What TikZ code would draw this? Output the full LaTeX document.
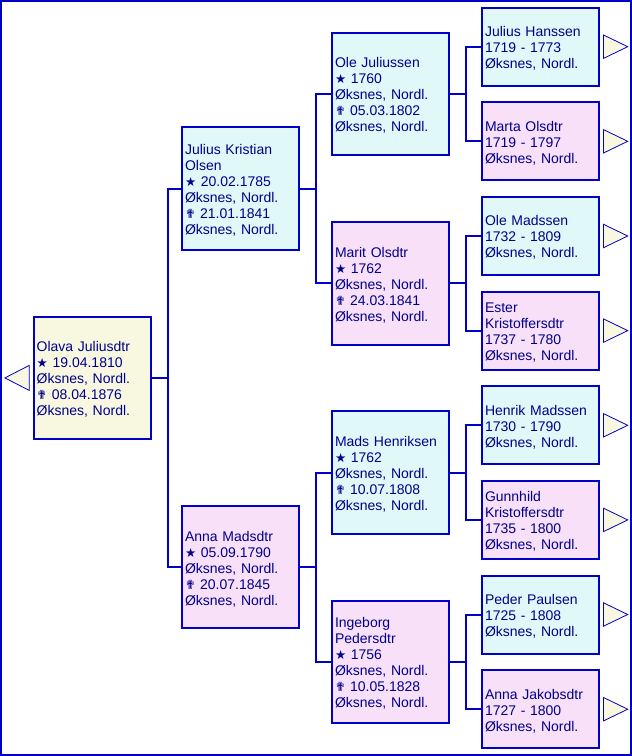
\documentclass[tikz,border=0pt]{standalone}
\usepackage{fontspec}
\setmainfont{Liberation Sans}
\newfontfamily\symfont{DejaVu Sans}
\usetikzlibrary{calc}
\definecolor{bord}{RGB}{0,0,200}
\definecolor{txt}{RGB}{0,0,140}
\definecolor{cream}{RGB}{248,248,224}
\definecolor{male}{RGB}{224,248,248}
\definecolor{female}{RGB}{248,224,248}
\newcommand{\born}{{\symfont\fontsize{12.5}{16}\selectfont ★}}
\newcommand{\died}{{\symfont\fontsize{12.5}{16}\selectfont ✟}}
\newcommand{\toplift}{\rule{0pt}{13.5pt}}
\begin{document}
\begin{tikzpicture}[x=1pt,y=-1pt,
  person/.style={draw=bord, line width=2pt, text=txt, align=left,
    text width=111pt, inner xsep=3pt, inner ysep=0pt, outer sep=0pt,
    minimum height=#1, anchor=west,
    font=\fontsize{14}{16}\selectfont},
  big/.style={person=122.5pt},
  small/.style={person=78pt},
  root/.style={big, fill=cream},
  male/.style={fill=male},
  female/.style={fill=female},
  conn/.style={draw=bord, line width=2pt},
  tri/.style={draw=bord, line width=0.8pt, fill=cream},
  frame/.style={draw=bord, line width=2pt}]
\useasboundingbox (0,0) rectangle (632,756);
\draw[frame] (1,1) rectangle (631,755);

% generation 0
\node[root] (p) at (33.7,377.9) {\toplift Olava Juliusdtr\\ \born{} 19.04.1810\\ Øksnes, Nordl.\\ \died{} 08.04.1876\\ Øksnes, Nordl.};

% generation 1
\node[big,male] (f) at (182,188.7) {\toplift Julius Kristian\\ Olsen\\ \born{} 20.02.1785\\ Øksnes, Nordl.\\ \died{} 21.01.1841\\ Øksnes, Nordl.};
\node[big,female] (m) at (182,567.2) {\toplift Anna Madsdtr\\ \born{} 05.09.1790\\ Øksnes, Nordl.\\ \died{} 20.07.1845\\ Øksnes, Nordl.};

% generation 2
\node[big,male] (ff) at (332,94.0) {\toplift Ole Juliussen\\ \born{} 1760\\ Øksnes, Nordl.\\ \died{} 05.03.1802\\ Øksnes, Nordl.};
\node[big,female] (fm) at (332,283.3) {\toplift Marit Olsdtr\\ \born{} 1762\\ Øksnes, Nordl.\\ \died{} 24.03.1841\\ Øksnes, Nordl.};
\node[big,male] (mf) at (332,472.6) {\toplift Mads Henriksen\\ \born{} 1762\\ Øksnes, Nordl.\\ \died{} 10.07.1808\\ Øksnes, Nordl.};
\node[big,female] (mm) at (332,661.9) {\toplift Ingeborg\\ Pedersdtr\\ \born{} 1756\\ Øksnes, Nordl.\\ \died{} 10.05.1828\\ Øksnes, Nordl.};

% generation 3
\node[small,male] (fff) at (482,46.7) {\toplift Julius Hanssen\\ 1719 - 1773\\ Øksnes, Nordl.};
\node[small,female] (ffm) at (482,141.3) {\toplift Marta Olsdtr\\ 1719 - 1797\\ Øksnes, Nordl.};
\node[small,male] (fmf) at (482,236.0) {\toplift Ole Madssen\\ 1732 - 1809\\ Øksnes, Nordl.};
\node[small,female] (fmm) at (482,330.6) {\toplift Ester\\ Kristoffersdtr\\ 1737 - 1780\\ Øksnes, Nordl.};
\node[small,male] (mff) at (482,425.3) {\toplift Henrik Madssen\\ 1730 - 1790\\ Øksnes, Nordl.};
\node[small,female] (mfm) at (482,519.9) {\toplift Gunnhild\\ Kristoffersdtr\\ 1735 - 1800\\ Øksnes, Nordl.};
\node[small,male] (mmf) at (482,614.5) {\toplift Peder Paulsen\\ 1725 - 1808\\ Øksnes, Nordl.};
\node[small,female] (mmm) at (482,709.2) {\toplift Anna Jakobsdtr\\ 1727 - 1800\\ Øksnes, Nordl.};

% connectors
\foreach \pp/\a/\b/\d in {p/f/m/17, f/ff/fm/17, m/mf/mm/17, ff/fff/ffm/16.5, fm/fmf/fmm/16.5, mf/mff/mfm/16.5, mm/mmf/mmm/16.5}{
  \draw[conn] (\pp.east) -- ($(\pp.east)+(\d+1,0)$);
  \draw[conn] (\a.west) -| ($(\pp.east)+(\d,0)$) |- (\b.west);
}

% left arrow
\draw[tri] ($(p.west)+(-4.5,-12.5)$) -- ++(-24.3,12.5) -- ++(24.3,12.5) -- cycle;
% right arrows
\foreach \n in {fff,ffm,fmf,fmm,mff,mfm,mmf,mmm}{
  \draw[tri] ($(\n.east)+(4.5,-11.7)$) -- ++(24.2,11.7) -- ++(-24.2,11.7) -- cycle;
}
\end{tikzpicture}
\end{document}
